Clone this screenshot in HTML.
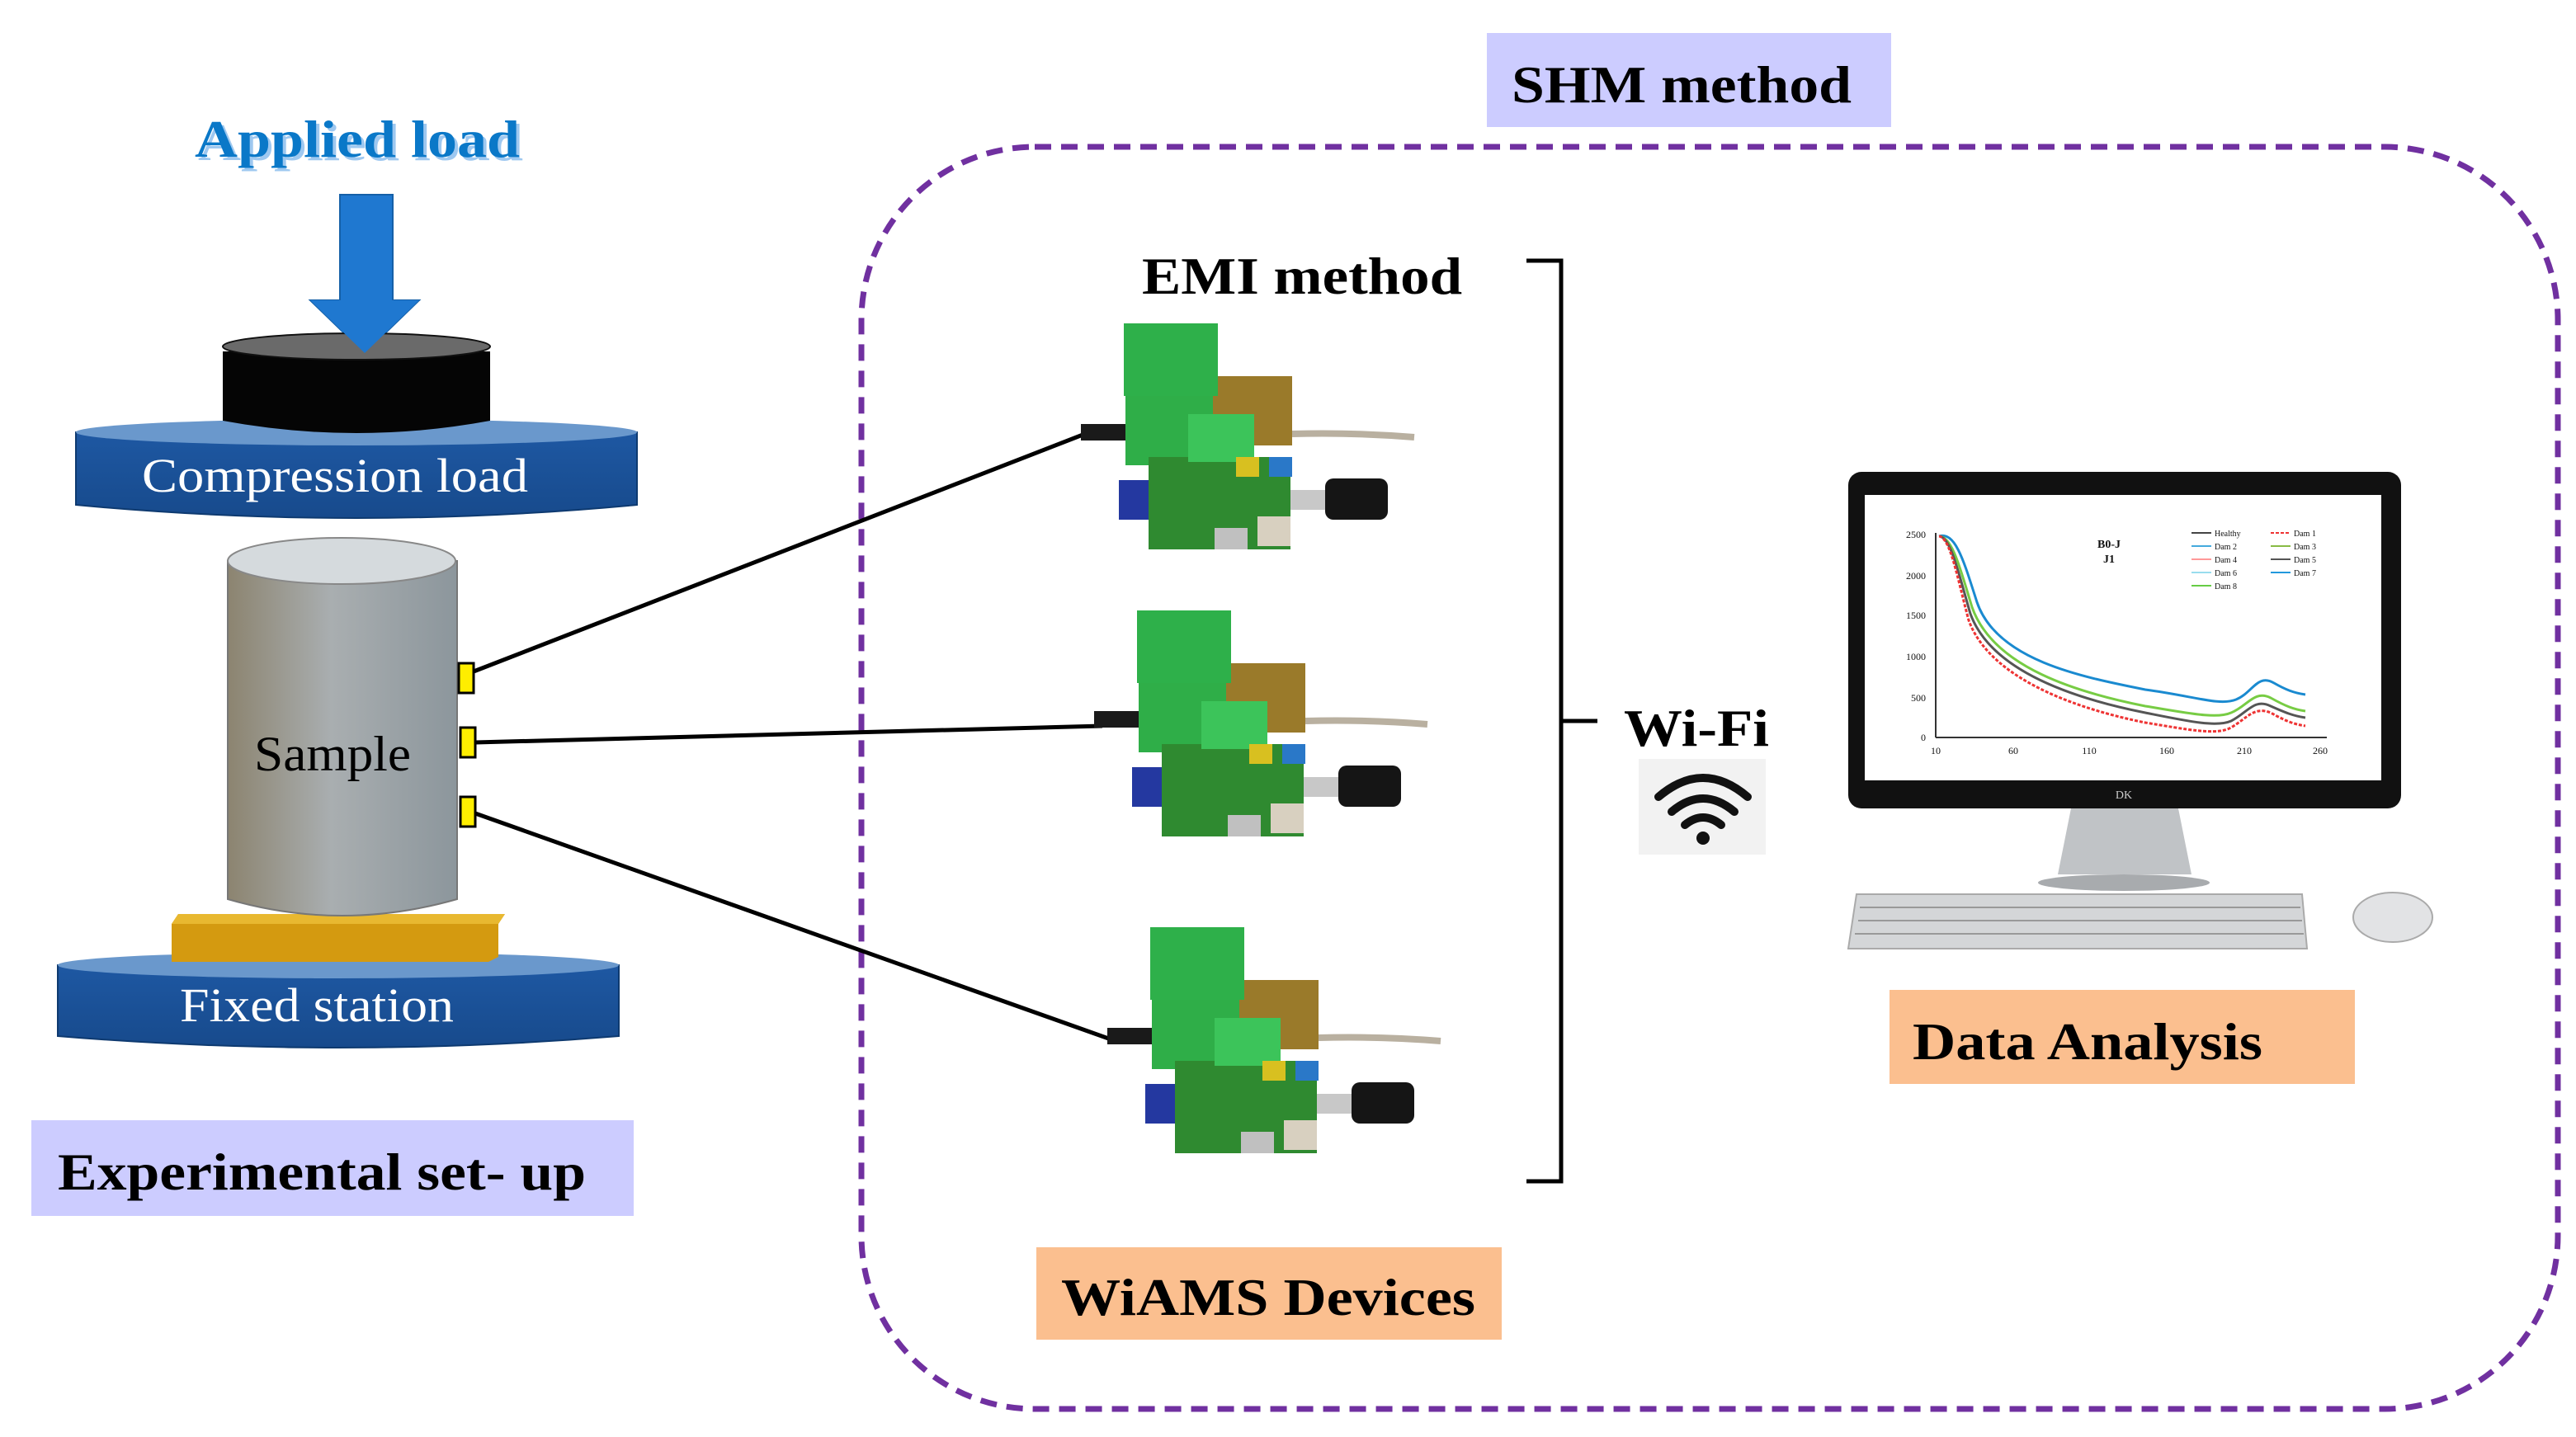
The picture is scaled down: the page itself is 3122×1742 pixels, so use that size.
<!DOCTYPE html>
<html><head><meta charset="utf-8"><style>
html,body{margin:0;padding:0;background:#fff;}
svg{display:block;}
text{font-family:"Liberation Serif",serif;}
</style></head><body>
<svg width="3122" height="1742" viewBox="0 0 1561 871" xmlns="http://www.w3.org/2000/svg">
<defs>
<linearGradient id="cyl" x1="0" x2="1" y1="0" y2="0">
<stop offset="0" stop-color="#8c8470"/><stop offset="0.45" stop-color="#a9aeb0"/><stop offset="1" stop-color="#8c969c"/>
</linearGradient>
<linearGradient id="plate" x1="0" x2="0" y1="0" y2="1">
<stop offset="0" stop-color="#1f5aa6"/><stop offset="1" stop-color="#174a8c"/>
</linearGradient>
<g id="dev">
<rect x="655" y="257" width="40" height="10" fill="#1a1a1a"/>
<path d="M783 263 Q820 262 857 265" stroke="#b9b0a0" stroke-width="4" fill="none"/>
<rect x="735" y="228" width="48" height="42" fill="#9a7a2a"/>
<rect x="681" y="196" width="57" height="44" fill="#2eb04a"/>
<rect x="682" y="240" width="53" height="42" fill="#2fae48"/>
<rect x="678" y="291" width="18" height="24" fill="#2438a0"/>
<rect x="696" y="277" width="86" height="56" fill="#2f8a30"/>
<rect x="720" y="251" width="40" height="29" fill="#3cc45a"/>
<rect x="749" y="277" width="14" height="12" fill="#d8c020"/>
<rect x="769" y="277" width="14" height="12" fill="#2a78c8"/>
<rect x="782" y="297" width="21" height="12" fill="#c8c8c8"/>
<rect x="803" y="290" width="38" height="25" rx="5" fill="#151515"/>
<rect x="762" y="313" width="20" height="18" fill="#d8d0c0"/>
<rect x="736" y="320" width="20" height="13" fill="#c0c0c0"/>
</g>
</defs>

<rect x="901" y="20" width="245" height="57" fill="#ccccff"/>
<text x="916" y="62" font-size="32" font-weight="bold" textLength="206" lengthAdjust="spacingAndGlyphs">SHM method</text>
<rect x="522" y="89" width="1028" height="765" rx="105" fill="none" stroke="#7030a0" stroke-width="3.5" stroke-dasharray="10,6"/>

<text x="120" y="97" font-size="32" font-weight="bold" fill="#9ec8f0" textLength="197" lengthAdjust="spacingAndGlyphs">Applied load</text>
<text x="118" y="95" font-size="32" font-weight="bold" fill="#0a78c8" textLength="197" lengthAdjust="spacingAndGlyphs">Applied load</text>
<path d="M206 118 H238 V182 H254 L221 214 L188 182 H206 Z" fill="#1f78d0" stroke="#1560a8"/>

<path d="M46 262 Q216 246 386 262 V306 Q216 322 46 306 Z" fill="url(#plate)" stroke="#0e3a70"/>
<ellipse cx="216" cy="262" rx="170" ry="8" fill="#6a98cc"/>
<path d="M135 213 V255 Q216 270 297 255 V213 Z" fill="#050505"/>
<ellipse cx="216" cy="210" rx="81" ry="8" fill="#6a6a6a" stroke="#111"/>
<path d="M188 182 L221 214 L254 182 Z" fill="#1f78d0"/>
<text x="86" y="298" font-size="29" fill="#fff" textLength="234" lengthAdjust="spacingAndGlyphs">Compression load</text>

<path d="M35 585 Q205 570 375 585 V628 Q205 642 35 628 Z" fill="url(#plate)" stroke="#0e3a70"/>
<ellipse cx="205" cy="585" rx="170" ry="8" fill="#6a98cc"/>
<path d="M104 560 L108 554 H306 L302 560 V580 L296 583 H104 Z" fill="#d49a10"/>
<path d="M104 560 L108 554 H306 L302 560 Z" fill="#e8b830"/>
<text x="109" y="619" font-size="29" fill="#fff" textLength="166" lengthAdjust="spacingAndGlyphs">Fixed station</text>

<path d="M138 340 V545 Q207 565 277 545 V340 Z" fill="url(#cyl)" stroke="#777"/>
<ellipse cx="207" cy="340" rx="69" ry="14" fill="#d5dadd" stroke="#888"/>
<text x="154" y="467" font-size="30" textLength="95" lengthAdjust="spacingAndGlyphs">Sample</text>
<rect x="278" y="402" width="9" height="18" fill="#ffee00" stroke="#000" stroke-width="1.5"/>
<rect x="279" y="441" width="9" height="18" fill="#ffee00" stroke="#000" stroke-width="1.5"/>
<rect x="279" y="483" width="9" height="18" fill="#ffee00" stroke="#000" stroke-width="1.5"/>

<line x1="287" y1="407" x2="660" y2="262" stroke="#000" stroke-width="2.5"/>
<line x1="288" y1="450" x2="668" y2="440" stroke="#000" stroke-width="2.5"/>
<line x1="288" y1="493" x2="676" y2="631" stroke="#000" stroke-width="2.5"/>

<rect x="19" y="679" width="365" height="58" fill="#ccccff"/>
<text x="35" y="721" font-size="32" font-weight="bold" textLength="320" lengthAdjust="spacingAndGlyphs">Experimental set- up</text>

<text x="692" y="178" font-size="32" font-weight="bold" textLength="194" lengthAdjust="spacingAndGlyphs">EMI method</text>
<use href="#dev"/>
<use href="#dev" transform="translate(8,174)"/>
<use href="#dev" transform="translate(16,366)"/>

<path d="M925 158 H946 V716 H925 M946 437 H968" stroke="#000" stroke-width="2.5" fill="none"/>

<text x="984" y="452" font-size="32" font-weight="bold" textLength="88" lengthAdjust="spacingAndGlyphs">Wi-Fi</text>
<rect x="993" y="460" width="77" height="58" fill="#f2f2f2"/>
<g fill="none" stroke="#111" stroke-width="5" stroke-linecap="round">
<path d="M1005 483 Q1032 460 1059 483"/>
<path d="M1013 492 Q1032 476 1051 492"/>
<path d="M1021 500 Q1032 491 1043 500"/>
</g>
<circle cx="1032" cy="508" r="4" fill="#111"/>

<rect x="628" y="756" width="282" height="56" fill="#fbbf8f"/>
<text x="643" y="797" font-size="32" font-weight="bold" textLength="251" lengthAdjust="spacingAndGlyphs">WiAMS Devices</text>

<rect x="1120" y="286" width="335" height="204" rx="8" fill="#111"/>
<rect x="1130" y="300" width="313" height="173" fill="#fff"/>
<path d="M1255 490 H1320 L1328 530 H1247 Z" fill="#c0c3c6"/>
<ellipse cx="1287" cy="535" rx="52" ry="5" fill="#a8abae"/>
<path d="M1125 542 H1395 L1398 575 H1120 Z" fill="#d4d6d8" stroke="#aaa"/>
<g stroke="#999" stroke-width="1">
<line x1="1127" y1="550" x2="1394" y2="550"/><line x1="1126" y1="558" x2="1395" y2="558"/><line x1="1124" y1="566" x2="1396" y2="566"/>
</g>
<ellipse cx="1450" cy="556" rx="24" ry="15" fill="#e2e3e5" stroke="#aaa"/>
<text x="1287" y="484" font-size="7" fill="#ccc" text-anchor="middle" font-family="Liberation Sans">DK</text>
<g font-size="6" fill="#111">
<line x1="1173" y1="323" x2="1173" y2="447" stroke="#333"/>
<line x1="1173" y1="447" x2="1410" y2="447" stroke="#333"/>
<text x="1167" y="326" text-anchor="end">2500</text><text x="1167" y="351" text-anchor="end">2000</text>
<text x="1167" y="375" text-anchor="end">1500</text><text x="1167" y="400" text-anchor="end">1000</text>
<text x="1167" y="425" text-anchor="end">500</text><text x="1167" y="449" text-anchor="end">0</text>
<text x="1173" y="457" text-anchor="middle">10</text><text x="1220" y="457" text-anchor="middle">60</text>
<text x="1266" y="457" text-anchor="middle">110</text><text x="1313" y="457" text-anchor="middle">160</text>
<text x="1360" y="457" text-anchor="middle">210</text><text x="1406" y="457" text-anchor="middle">260</text>
<text x="1278" y="332" font-weight="bold" font-size="7" text-anchor="middle">B0-J</text>
<text x="1278" y="341" font-weight="bold" font-size="7" text-anchor="middle">J1</text>
<text x="1342" y="325" font-size="5">Healthy</text><text x="1390" y="325" font-size="5">Dam 1</text>
<text x="1342" y="333" font-size="5">Dam 2</text><text x="1390" y="333" font-size="5">Dam 3</text>
<text x="1342" y="341" font-size="5">Dam 4</text><text x="1390" y="341" font-size="5">Dam 5</text>
<text x="1342" y="349" font-size="5">Dam 6</text><text x="1390" y="349" font-size="5">Dam 7</text>
<text x="1342" y="357" font-size="5">Dam 8</text>
</g>
<g stroke-width="1">
<line x1="1328" y1="323" x2="1340" y2="323" stroke="#444"/><line x1="1376" y1="323" x2="1388" y2="323" stroke="#e33" stroke-dasharray="2,1"/>
<line x1="1328" y1="331" x2="1340" y2="331" stroke="#4ad"/><line x1="1376" y1="331" x2="1388" y2="331" stroke="#8b4"/>
<line x1="1328" y1="339" x2="1340" y2="339" stroke="#f99"/><line x1="1376" y1="339" x2="1388" y2="339" stroke="#555"/>
<line x1="1328" y1="347" x2="1340" y2="347" stroke="#9de"/><line x1="1376" y1="347" x2="1388" y2="347" stroke="#29d"/>
<line x1="1328" y1="355" x2="1340" y2="355" stroke="#6c4"/>
</g>
<g fill="none" stroke-width="1.5">
<path d="M1175 325 C1185 322 1190 340 1198 365 C1210 400 1260 410 1300 418 C1330 422 1345 428 1355 424 C1365 420 1368 408 1378 414 C1385 418 1390 420 1397 421" stroke="#1a8ad0"/>
<path d="M1175 325 C1183 325 1188 345 1195 368 C1208 405 1260 420 1300 428 C1325 432 1343 436 1352 432 C1362 428 1366 418 1376 423 C1385 428 1390 430 1397 431" stroke="#7c4"/>
<path d="M1175 325 C1182 325 1187 348 1194 372 C1207 408 1260 424 1300 432 C1325 437 1343 441 1352 437 C1362 432 1366 423 1376 428 C1385 432 1390 434 1397 435" stroke="#555"/>
<path d="M1175 325 C1182 326 1186 350 1193 376 C1206 412 1260 430 1300 438 C1325 442 1343 446 1352 441 C1362 435 1366 428 1376 432 C1385 437 1390 439 1397 440" stroke="#e33" stroke-dasharray="2,1"/>
</g>

<rect x="1145" y="600" width="282" height="57" fill="#fbbf8f"/>
<text x="1159" y="642" font-size="32" font-weight="bold" textLength="212" lengthAdjust="spacingAndGlyphs">Data Analysis</text>
</svg>
</body></html>
